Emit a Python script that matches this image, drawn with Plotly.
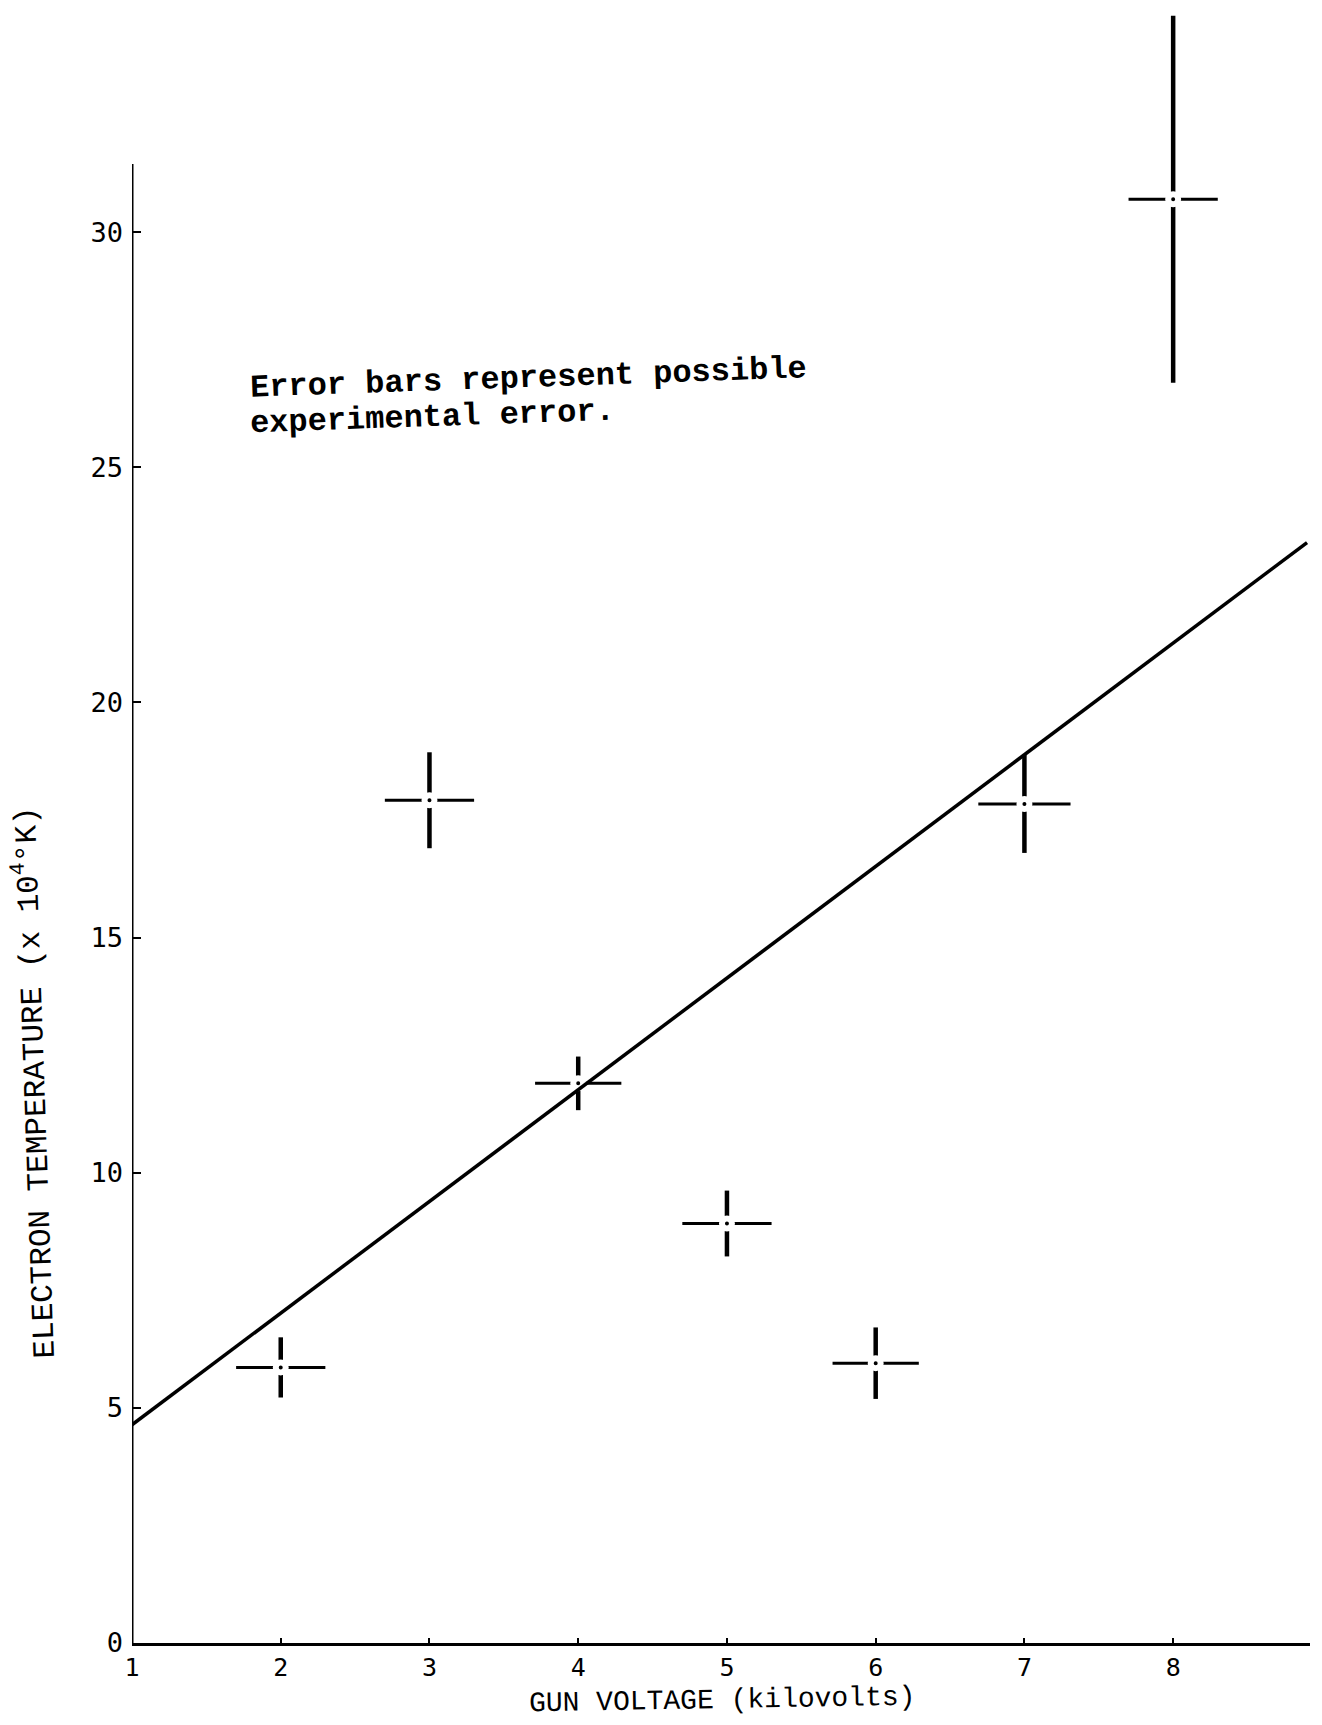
import plotly.graph_objects as go

# Data
gun_voltage = [2, 3, 4, 5, 6, 7, 8]                      # kV
electron_temp = [5.86, 17.92, 11.9, 8.92, 5.95, 17.84, 30.7]   # x 10^4 K
temp_err = [0.64, 1.02, 0.57, 0.70, 0.76, 1.04, 3.9]
volt_err = [0.30, 0.30, 0.29, 0.30, 0.29, 0.31, 0.30]

fit_x = [1.0, 8.9]
fit_y = [4.64, 23.4]

x_ticks = [1, 2, 3, 4, 5, 6, 7, 8]
y_ticks = [0, 5, 10, 15, 20, 25, 30]
y_axis_top = 31.45

note_lines = ["Error bars represent possible", "experimental error."]

mono = "DejaVu Sans Mono"
typewriter = "Liberation Mono"

fig = go.Figure()

fig.add_trace(go.Scatter(
    x=gun_voltage, y=electron_temp, mode="markers",
    marker=dict(size=10, color="black", line=dict(color="white", width=6)),
    error_y=dict(type="data", array=temp_err, visible=True, color="black",
                 thickness=4.5, width=0),
    error_x=dict(type="data", array=volt_err, visible=True, color="black",
                 thickness=3, width=0),
    cliponaxis=False,
))

fig.add_trace(go.Scatter(
    x=fit_x, y=fit_y, mode="lines",
    line=dict(color="black", width=3.5),
    cliponaxis=False,
))

# y axis line (stops short of the top, as drawn)
fig.add_shape(type="line", xref="x", yref="y", x0=1, x1=1, y0=0, y1=y_axis_top,
              line=dict(color="black", width=3))

annotations = [
    dict(text="ELECTRON TEMPERATURE (x 10<sup>4</sup>°K)", textangle=-92,
         xref="paper", yref="paper", x=-0.084, y=0.342,
         xanchor="center", yanchor="middle", showarrow=False,
         font=dict(family=typewriter, size=31, color="black")),
    dict(text="GUN VOLTAGE (kilovolts)", textangle=-1,
         xref="paper", yref="paper", x=0.501, y=-0.0354,
         xanchor="center", yanchor="middle", showarrow=False,
         font=dict(family=typewriter, size=28, color="black")),
]
for line_text, ypos in zip(note_lines, [0.772, 0.748]):
    annotations.append(dict(
        text=line_text, textangle=-2,
        xref="paper", yref="paper", x=0.0976, y=ypos, align="left",
        xanchor="left", yanchor="middle", showarrow=False,
        font=dict(family=typewriter, size=32, color="black", weight="bold")))

fig.update_layout(
    width=1322, height=1725, autosize=False,
    margin=dict(l=132, r=12, t=5, b=82),
    plot_bgcolor="white", paper_bgcolor="white",
    showlegend=False,
    xaxis=dict(
        range=[1, 8.92], tickvals=x_ticks, ticktext=[str(v) for v in x_ticks],
        showline=True, linecolor="black", linewidth=3,
        ticks="inside", ticklen=5, tickwidth=2, tickcolor="black",
        tickfont=dict(family=mono, size=25, color="black"),
        showgrid=False, zeroline=False, ticklabelstandoff=0,
    ),
    yaxis=dict(
        range=[0, 34.83], tickvals=y_ticks, ticktext=[str(v) for v in y_ticks],
        showline=False,
        ticks="inside", ticklen=9, tickwidth=2, tickcolor="black",
        tickfont=dict(family=mono, size=27, color="black"),
        showgrid=False, zeroline=False, ticklabelstandoff=8,
    ),
    annotations=annotations,
)

fig.write_html("out.html")
